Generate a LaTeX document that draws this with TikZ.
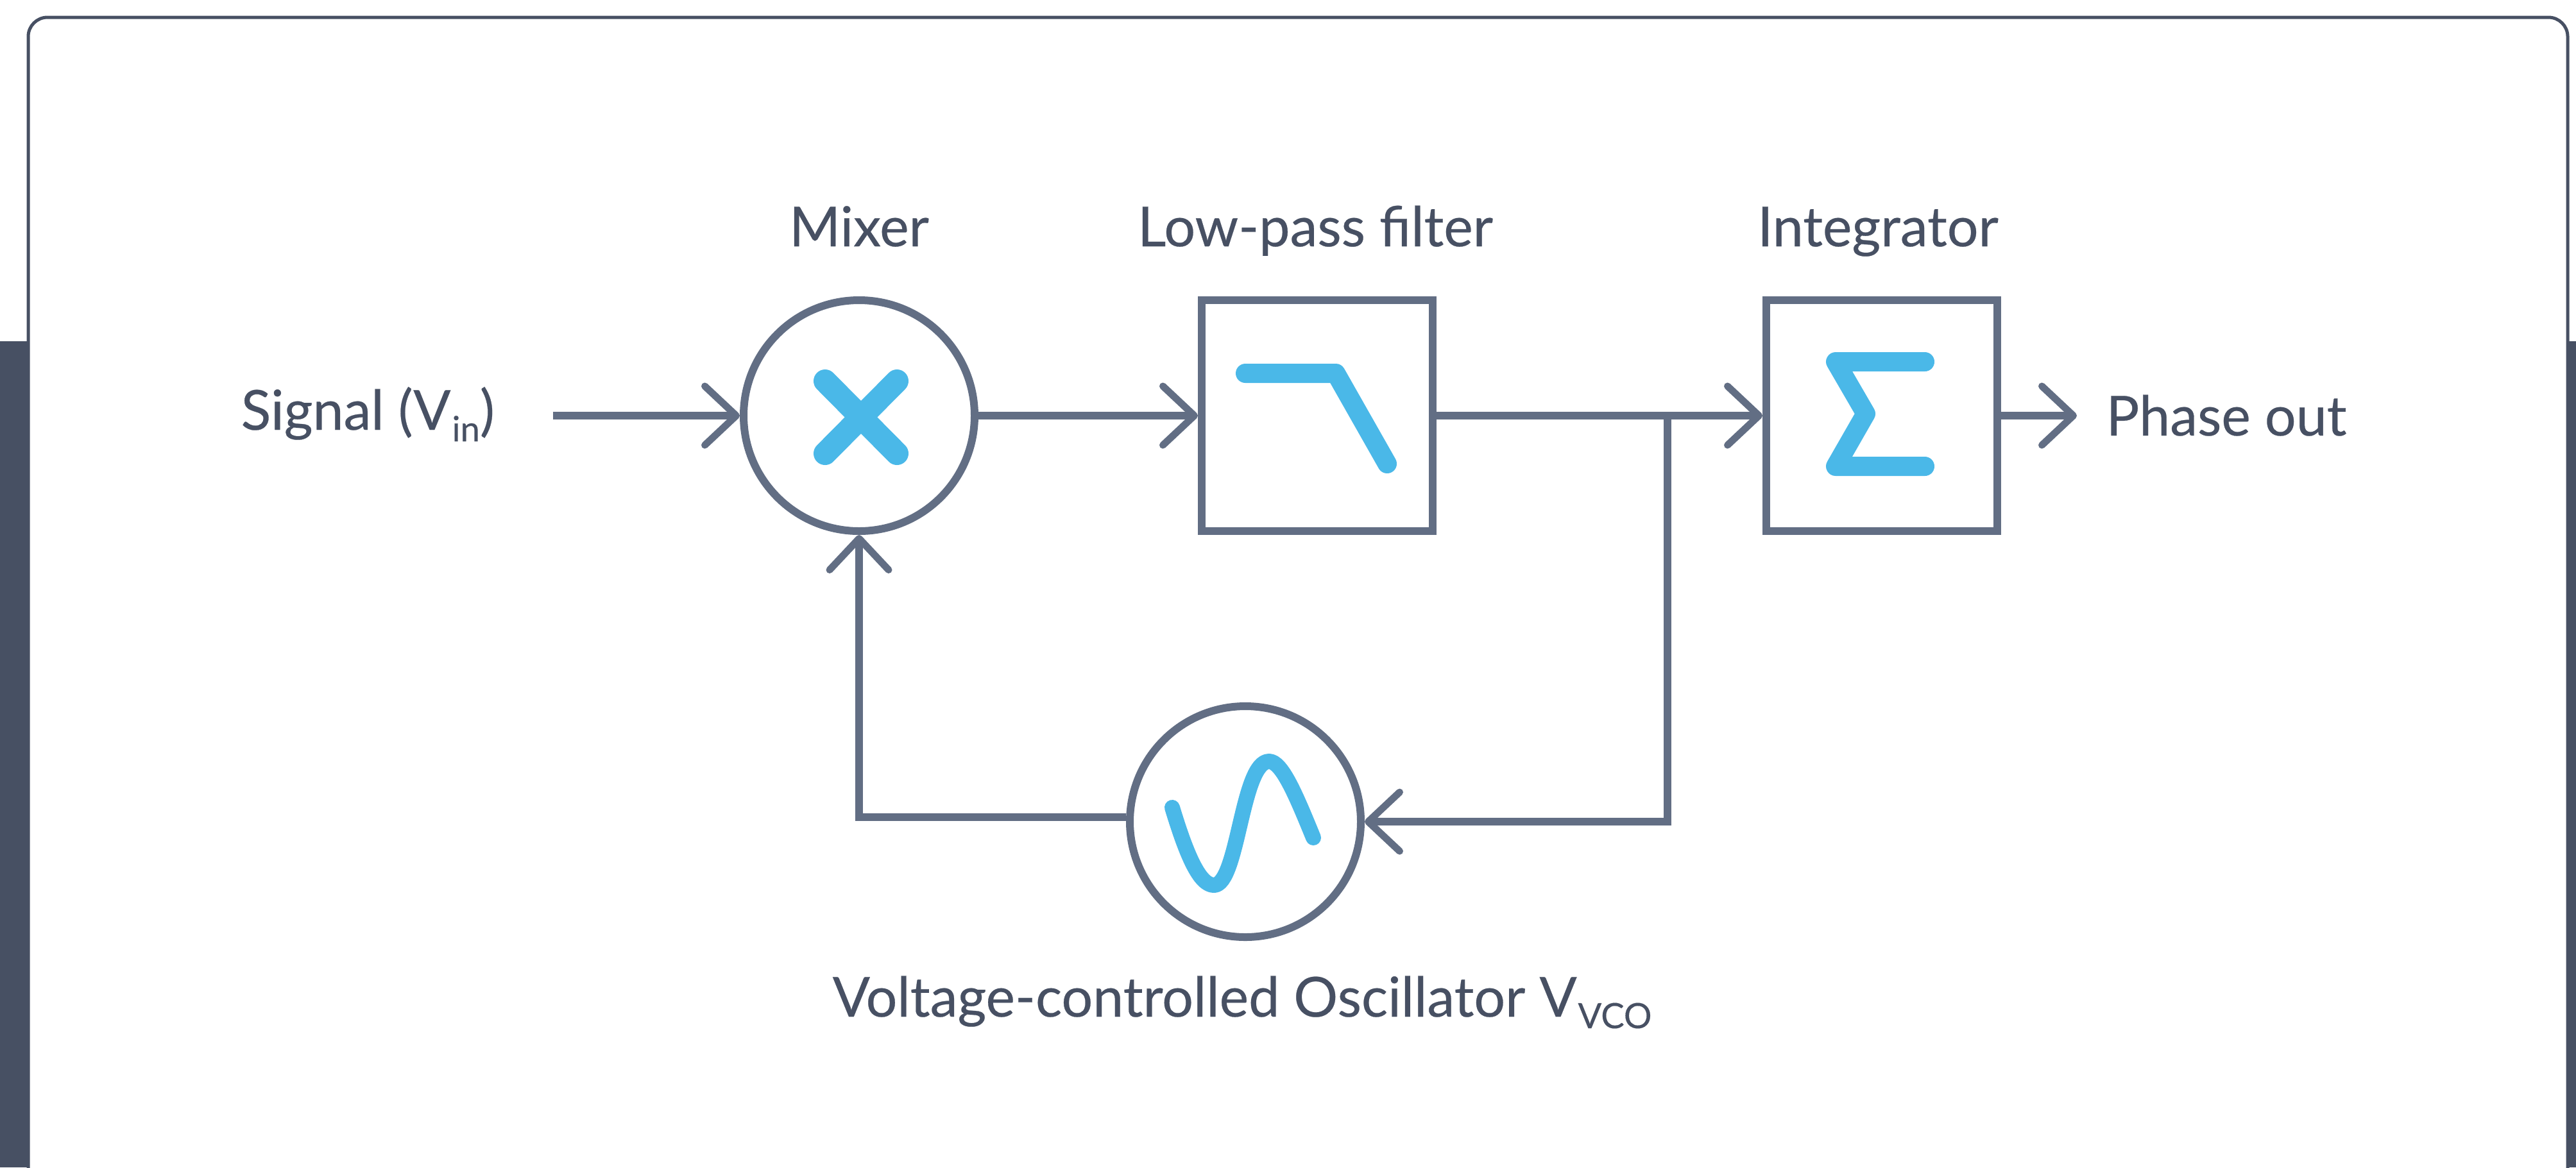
\documentclass[tikz,border=0pt]{standalone}
\usepackage{fontspec}
\setmainfont{Lato}[FakeBold=0.3]
\usetikzlibrary{arrows.meta}
\definecolor{darkslate}{HTML}{475063}
\definecolor{lineslate}{HTML}{626E84}
\definecolor{iconblue}{HTML}{4AB8E8}
\newcommand{\lowsub}[1]{\hspace{0.02cm}\raisebox{-0.18cm}{\fontsize{15.5}{17}\selectfont #1}}
\tikzset{
  blockcircle/.style={circle,draw=lineslate,line width=0.12cm,minimum size=3.6cm,inner sep=0pt,fill=white},
  blockbox/.style={rectangle,draw=lineslate,line width=0.12cm,minimum size=3.6cm,inner sep=0pt,fill=white},
  conn/.style={draw=lineslate,line width=0.12cm},
  connarrow/.style={conn,-{Straight Barb[length=0.49cm,width=0.92cm,line width=0.11cm,round]}},
  icon/.style={draw=iconblue,line width=0.3cm,line cap=round,line join=round},
  lbl/.style={text=darkslate,inner sep=0pt,anchor=base,font=\fontsize{24.5}{28}\selectfont},
}
\begin{document}
\begin{tikzpicture}
            \useasboundingbox (0,0) rectangle (40.15,-18.20);
            \fill[darkslate] (0,-5.32) rectangle (40.15,-18.20);
            \fill[white,draw=darkslate,line width=0.05cm,rounded corners=0.3cm] (0.44,-0.27) rectangle (40.02,-18.50);
            % blocks
            \node[blockcircle] (mixer) at (13.39,-6.48) {};
            \node[blockbox] (lowpass) at (20.53,-6.48) {};
            \node[blockbox] (integ) at (29.33,-6.48) {};
            \node[blockcircle] (vco) at (19.41,-12.81) {};
            % labels
            \node[lbl] (mixerlbl) at (13.39,-3.84) {Mixer};
            \node[lbl] (lowpasslbl) at (20.50,-3.84) {Low-pass filter};
            \node[lbl] (integlbl) at (29.27,-3.84) {Integrator};
            \node[lbl,anchor=base west] (sigtxt) at (3.75,-6.70) {Signal (V\lowsub{in})};
            \node[lbl,anchor=base west] (phasetxt) at (32.82,-6.79) {Phase out};
            \node[lbl,anchor=base west] (vcotxt) at (12.97,-15.85) {Voltage-controlled Oscillator V\lowsub{VCO}};
            % connectors
            \coordinate (sigstart) at (8.62,-6.48);
            \coordinate (phaseend) at (32.37,-6.48);
            \coordinate (tap) at (25.99,-6.48);
            \draw[connarrow] (sigstart) -- (mixer.west);
            \draw[connarrow] (mixer.east) -- (lowpass.west);
            \draw[connarrow] (lowpass.east) -- (integ.west);
            \draw[connarrow] (integ.east) -- (phaseend);
            \draw[connarrow] (tap) |- (vco.east);
            \draw[connarrow] ([yshift=0.07cm]vco.west) -| (mixer.south);
            % icons
            \draw[icon,line width=0.36cm] (12.86,-5.94) -- (13.98,-7.07);
            \draw[icon,line width=0.36cm] (13.98,-5.94) -- (12.86,-7.07);
            \draw[icon] (19.41,-5.82) -- (20.82,-5.82) -- (21.62,-7.23);
            \draw[icon] (30.00,-5.64) -- (28.61,-5.64) -- (29.08,-6.45) -- (28.61,-7.27) -- (30.00,-7.27);
            \draw[icon,line width=0.24cm] (18.27,-12.59) .. controls (18.50,-13.35) and (18.70,-13.80) .. (18.92,-13.80)
              .. controls (19.30,-13.80) and (19.35,-11.87) .. (19.78,-11.87)
              .. controls (19.98,-11.87) and (20.20,-12.40) .. (20.47,-13.06);
        \end{tikzpicture}
\end{document}
